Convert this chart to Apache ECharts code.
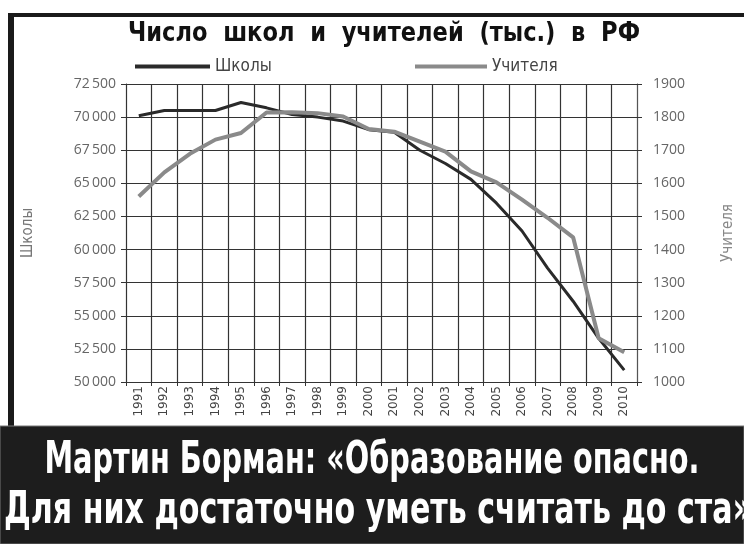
<!DOCTYPE html>
<html><head><meta charset="utf-8">
<script src="https://cdn.jsdelivr.net/npm/echarts@6/dist/echarts.min.js"></script>
<style>html,body{margin:0;padding:0;background:#fff}#c{width:744px;height:544px}</style>
</head><body><div id="c"></div>
<script>
const years = ['1991','1992','1993','1994','1995','1996','1997','1998','1999','2000','2001','2002','2003','2004','2005','2006','2007','2008','2009','2010'];
const schools = [70100, 70500, 70500, 70500, 71100, 70700, 70200, 70000, 69700, 69050, 68850, 67500, 66500, 65300, 63500, 61400, 58600, 56100, 53300, 50900];
const teachers = [1560, 1633, 1689, 1732, 1752, 1814, 1815, 1812, 1802, 1764, 1756, 1726, 1696, 1636, 1603, 1551, 1496, 1437, 1132, 1090];
const titleText = 'Число  школ  и  учителей  (тыс.)  в  РФ';
const quoteLine1 = 'Мартин Борман: «Образование опасно.';
const quoteLine2 = 'Для них достаточно уметь считать до ста»';

const narrow = '"Liberation Sans Narrow", "DejaVu Sans Condensed", sans-serif';
const bandFont = 'bold 44px ' + narrow;
const titleFont = 'bold 27px ' + narrow;
const mc = document.createElement('canvas').getContext('2d');
mc.font = bandFont;
const w1 = mc.measureText(quoteLine1).width;
const w2 = mc.measureText(quoteLine2).width;
mc.font = titleFont;
const wt = mc.measureText(titleText).width;

const chart = echarts.init(document.getElementById('c'), null, {renderer: 'canvas'});
const axisLabelColor = '#666';
chart.setOption({
  backgroundColor: '#fff',
  animation: false,
  legend: [
    {data: ['Школы'], left: 130, top: 53, itemWidth: 75, itemHeight: 4, icon: 'rect', itemGap: 8,
     textStyle: {fontFamily: narrow, fontSize: 17, color: '#444'}},
    {data: ['Учителя'], left: 410, top: 53, itemWidth: 72, itemHeight: 4, icon: 'rect', itemGap: 8,
     textStyle: {fontFamily: narrow, fontSize: 17, color: '#444'}}
  ],
  grid: {left: 126, right: 100, top: 84, bottom: 162, containLabel: false},
  xAxis: {
    type: 'category', data: years, boundaryGap: true,
    axisLine: {lineStyle: {color: '#333', width: 1}},
    axisTick: {show: true, length: 4, lineStyle: {color: '#333'}},
    splitLine: {show: true, interval: 0, lineStyle: {color: '#333', width: 1.2}},
    axisLabel: {rotate: 90, interval: 0, fontSize: 12, color: '#444', margin: 4, fontFamily: '"DejaVu Sans", sans-serif'}
  },
  yAxis: [
    {type: 'value', min: 50000, max: 72500, interval: 2500, position: 'left',
     name: 'Школы', nameLocation: 'middle', nameRotate: 90, nameGap: 90,
     nameTextStyle: {fontSize: 15, color: '#777', fontFamily: narrow},
     axisLine: {show: true, lineStyle: {color: '#333'}},
     axisTick: {show: true, length: 5, lineStyle: {color: '#333'}},
     splitLine: {show: true, lineStyle: {color: '#333', width: 1.2}},
     axisLabel: {fontSize: 14, color: axisLabelColor, margin: 10, fontFamily: '"Open Sans", "DejaVu Sans", sans-serif',
       formatter: v => { const s = String(v); return s.slice(0, s.length - 3) + '\u2009' + s.slice(-3); }}},
    {type: 'value', min: 1000, max: 1900, interval: 100, position: 'right',
     name: 'Учителя', nameLocation: 'middle', nameRotate: 90, nameGap: 84,
     nameTextStyle: {fontSize: 15, color: '#888', fontFamily: narrow},
     axisLine: {show: true, lineStyle: {color: '#555'}},
     axisTick: {show: true, length: 5, lineStyle: {color: '#333'}},
     splitLine: {show: false},
     axisLabel: {fontSize: 14, color: axisLabelColor, margin: 16, fontFamily: '"Open Sans", "DejaVu Sans", sans-serif',
       formatter: v => String(v)}}
  ],
  series: [
    {name: 'Школы', type: 'line', yAxisIndex: 0, data: schools, showSymbol: false, symbol: 'none',
     lineStyle: {color: '#2a2a2a', width: 3}, itemStyle: {color: '#2a2a2a'}},
    {name: 'Учителя', type: 'line', yAxisIndex: 1, data: teachers, showSymbol: false, symbol: 'none',
     lineStyle: {color: '#8a8a8a', width: 4}, itemStyle: {color: '#8a8a8a'}}
  ],
  graphic: [
    {type: 'rect', shape: {x: 8, y: 13, width: 736, height: 4}, style: {fill: '#1a1a1a'}},
    {type: 'rect', shape: {x: 8, y: 13, width: 6, height: 415}, style: {fill: '#1a1a1a'}},
    {type: 'text', x: 384, y: 34, scaleX: 512 / wt, style: {text: titleText, font: titleFont, fill: '#111', align: 'center', verticalAlign: 'middle'}},
    {type: 'rect', shape: {x: 0, y: 426, width: 744, height: 118}, style: {fill: '#1d1d1d', stroke: '#777', lineWidth: 1}},
    {type: 'text', x: 372, y: 462, scaleX: 655 / w1, style: {text: quoteLine1, font: bandFont, fill: '#fff', align: 'center', verticalAlign: 'middle'}},
    {type: 'text', x: 378, y: 512, scaleX: 748 / w2, style: {text: quoteLine2, font: bandFont, fill: '#fff', align: 'center', verticalAlign: 'middle'}}
  ]
});
</script></body></html>
